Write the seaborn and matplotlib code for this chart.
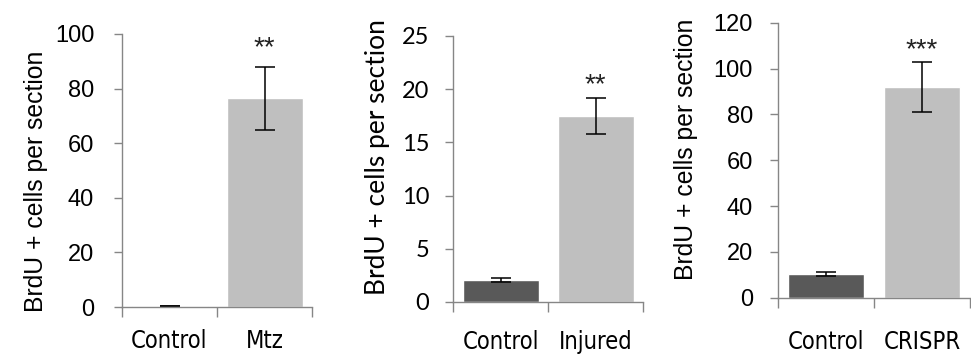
import numpy as np
import pandas as pd
import matplotlib
matplotlib.use('Agg')
import matplotlib.pyplot as plt
from matplotlib import font_manager
import seaborn as sns

# ============================================================
# DATA
# ============================================================
groups_a = ['Control', 'Mtz']
means_a  = [0.3, 76.5]
errs_a   = [0.1, 11.5]
stars_a  = '**'

groups_b = ['Control', 'Injured']
means_b  = [2.05, 17.5]
errs_b   = [0.2, 1.7]
stars_b  = '**'

groups_c = ['Control', 'CRISPR']
means_c  = [10.4, 92.0]
errs_c   = [0.9, 11.0]
stars_c  = '***'

ylabel = 'BrdU + cells per section'
bar_colors = ['#595959', '#bfbfbf']
AXIS_GRAY = '#868686'

sns.set_theme(style='white')

# narrow font for category labels, if one is installed
narrow = None
for f in font_manager.fontManager.ttflist:
    n = f.name.lower()
    fn = f.fname.lower()
    if ('narrow' in n or 'condensed' in n or 'condensed' in fn or 'narrow' in fn) \
            and 'bold' not in fn and 'italic' not in fn and 'oblique' not in fn:
        narrow = f.fname
        break
if narrow:
    xfont = font_manager.FontProperties(fname=narrow, size=17)
else:
    xfont = font_manager.FontProperties(family='Lato', size=16.5)

W, H = 971, 358
fig = plt.figure(figsize=(W / 100, H / 100), dpi=100)

# axes boxes in pixels: left, right, bottom(y), top(y)
boxes = [(122, 312, 307, 34), (453, 643, 302, 36), (778, 970, 297.7, 22.7)]
# per-panel layout: ymax, step, tick font, tick size, label font, label size,
# label coords (axes frac), ytick pad, xtick pad, star offset (pt)
layout = [
    (100, 20, 'Liberation Sans', 17, 'Liberation Sans', 17.8, (-0.39, 0.46), 14, 16, 8),
    (25, 5, 'Lato', 17, 'Lato', 19, (-0.33, 0.545), 11, 20, 4),
    (120, 20, 'Liberation Sans', 17, 'Liberation Sans', 17.8, (-0.417, 0.54), 12, 23, 3),
]
data = [(groups_a, means_a, errs_a, stars_a),
        (groups_b, means_b, errs_b, stars_b),
        (groups_c, means_c, errs_c, stars_c)]

for (l, r, b, t), (groups, means, errs, stars), lay in zip(boxes, data, layout):
    ymax, ystep, yfont, ysize, lfont, lsize, lcoords, ypad, xpad, soff = lay
    ax = fig.add_axes([l / W, (H - b) / H, (r - l) / W, (b - t) / H])
    df = pd.DataFrame({'group': groups, 'value': means})
    sns.barplot(data=df, x='group', y='value', hue='group', palette=bar_colors,
                width=0.8, legend=False, ax=ax, saturation=1)
    ax.errorbar(np.arange(len(groups)), means, yerr=errs, fmt='none',
                ecolor='black', elinewidth=1.1, capsize=7, capthick=1.1)
    ax.annotate(stars, xy=(1, means[1] + errs[1]), xytext=(0, soff),
                textcoords='offset points', ha='center', va='baseline',
                fontsize=20, family='Liberation Sans', color='#222222')

    ax.set_xlim(-0.5, 1.5)
    ax.set_ylim(0, ymax)
    ax.set_yticks(np.arange(0, ymax + ystep, ystep))
    ax.set_xlabel('')
    ax.set_ylabel(ylabel, fontsize=lsize, family=lfont, color='black')
    ax.yaxis.set_label_coords(*lcoords)

    for s in ['top', 'right']:
        ax.spines[s].set_visible(False)
    for s in ['left', 'bottom']:
        ax.spines[s].set_color(AXIS_GRAY)
        ax.spines[s].set_linewidth(1)

    ax.tick_params(axis='y', direction='out', length=6, width=1, color=AXIS_GRAY,
                   left=True, labelsize=ysize, labelcolor='black', pad=ypad)
    for lab in ax.get_yticklabels():
        lab.set_family(yfont)
    ax.tick_params(axis='x', which='major', length=0, pad=xpad, labelcolor='black')
    for lab in ax.get_xticklabels():
        lab.set_fontproperties(xfont)
    ax.set_xticks([-0.5, 0.5, 1.5], minor=True)
    ax.tick_params(axis='x', which='minor', direction='out', length=7, width=1,
                   color=AXIS_GRAY, bottom=True)

plt.savefig('out.png', dpi=100)
plt.close()
